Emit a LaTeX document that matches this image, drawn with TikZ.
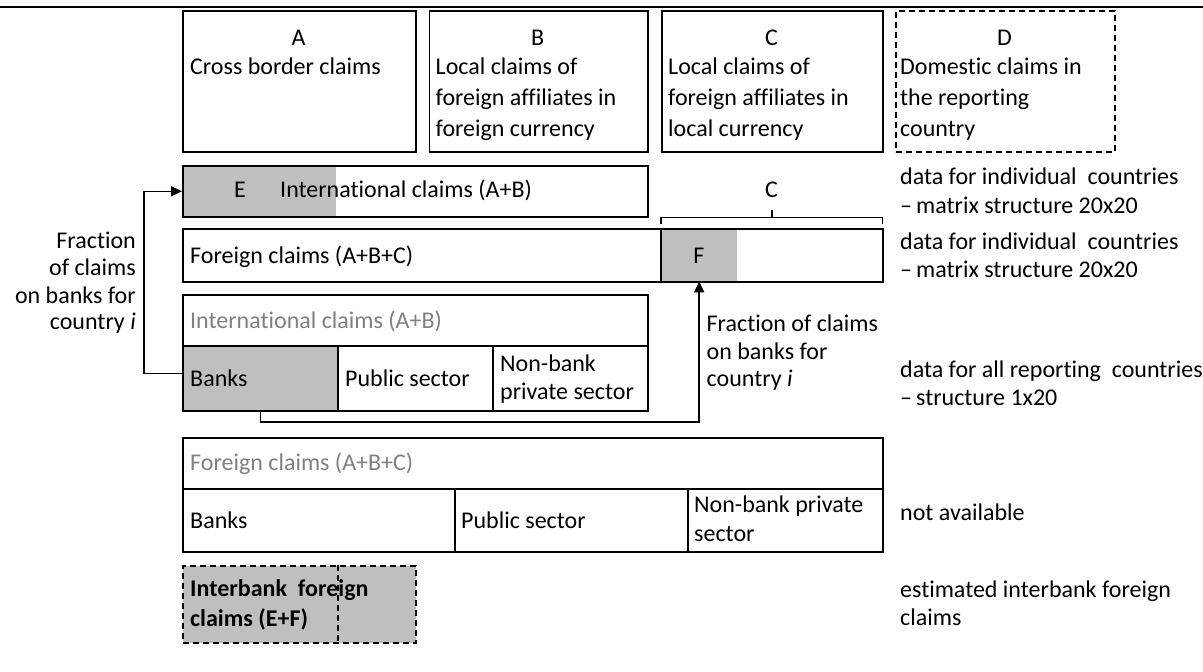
\documentclass[tikz,border=0pt]{standalone}
\usepackage{fontspec}
\setmainfont{Carlito}[Ligatures={NoCommon},Contextuals={NoAlternate},RawFeature={-liga}]
\usetikzlibrary{arrows.meta}
\definecolor{cellgray}{HTML}{BFBFBF}
\definecolor{txtgray}{HTML}{808080}
\newcommand\fs{\fontsize{24}{29}\selectfont}
\begin{document}
\begin{tikzpicture}[x=1pt,y=-1pt,
  box/.style={draw, line width=1.6pt, anchor=north west, inner sep=0pt},
  dbox/.style={box, dash pattern=on 6pt off 4pt},
  shade/.style={fill=cellgray, draw=none, anchor=north west, inner sep=0pt},
  ghost/.style={draw=none, anchor=north west, inner sep=0pt},
  lbl/.style={inner sep=0pt, anchor=base west, font=\fs},
  ctr/.style={inner sep=0pt, anchor=base, font=\fs},
  rgt/.style={inner sep=0pt, anchor=base east, font=\fs},
  conn/.style={line width=1.6pt},
  tip/.style={-{Triangle[length=11pt,width=10pt]}}
]
\useasboundingbox (0,0) rectangle (1203,672);
\coordinate (ruleL) at (0,7);
\coordinate (ruleR) at (1203,7);
\draw[line width=1.6pt] (ruleL) -- (ruleR);

% top boxes
\node[box, minimum width=233pt, minimum height=141pt] (boxA) at (182,10) {};
\node[box, minimum width=218.5pt, minimum height=141pt] (boxB) at (428.5,10) {};
\node[box, minimum width=221pt, minimum height=141pt] (boxC) at (661,10) {};
\node[dbox, minimum width=219pt, minimum height=141pt] (boxD) at (895,10) {};

\node[ctr] (tA) at (298.5,45) {A};
\node[lbl] (tA1) at (190,74) {Cross border claims};
\node[ctr] (tB) at (537.7,45) {B};
\node[lbl] (tB1) at (435.5,74) {Local claims of};
\node[lbl] (tB2) at (435.5,105.5) {foreign affiliates in};
\node[lbl] (tB3) at (435.5,136.5) {foreign currency};
\node[ctr] (tC) at (771.5,45) {C};
\node[lbl] (tC1) at (668,74) {Local claims of};
\node[lbl] (tC2) at (668,105.5) {foreign affiliates in};
\node[lbl] (tC3) at (668,136.5) {local currency};
\node[ctr] (tD) at (1004.5,45) {D};
\node[lbl] (tD1) at (900,74) {Domestic claims in};
\node[lbl] (tD2) at (900,105.5) {the reporting};
\node[lbl] (tD3) at (900,136.5) {country};

% E row
\node[shade, minimum width=154pt, minimum height=51pt] (Eg) at (182,165) {};
\node[box, minimum width=465pt, minimum height=51pt] (rowE) at (182,165) {};
\node[ctr] (tE) at (240,197) {E};
\node[lbl] (tE1) at (280,197) {International claims (A+B)};

% Foreign row
\node[shade, minimum width=76pt, minimum height=53pt] (Fg) at (661,228) {};
\node[box, minimum width=700pt, minimum height=53pt] (rowF) at (182,228) {};
\node[ghost, minimum width=221pt, minimum height=53pt] (Cpart) at (661,228) {};
\draw[conn] (Fg.north west) -- (Fg.south west);
\node[lbl] (tF1) at (190,263) {Foreign claims (A+B+C)};
\node[ctr] (tF) at (699,263) {F};

% brace over C part
\draw[conn] ([yshift=4pt]Cpart.north west) -- ([yshift=10.5pt]Cpart.north west)
  -- ([yshift=10.5pt]Cpart.north east) -- ([yshift=4pt]Cpart.north east);
\draw[conn] ([yshift=10.5pt]Cpart.north) -- ([yshift=18pt]Cpart.north);
\node[ctr] (tCb) at (771.5,197) {C};

% International claims table
\node[box, minimum width=465pt, minimum height=51pt] (intlH) at (182,294) {};
\node[box, fill=cellgray, minimum width=155pt, minimum height=65pt] (banksI) at (182,345) {};
\node[box, minimum width=155pt, minimum height=65pt] (pubI) at (337,345) {};
\node[box, minimum width=155pt, minimum height=65pt] (nbI) at (492,345) {};
\node[lbl, text=txtgray] (tI1) at (190,328) {International claims (A+B)};
\node[lbl] (tI2) at (190,386) {Banks};
\node[lbl] (tI3) at (345,386) {Public sector};
\node[lbl] (tI4) at (500,371) {Non-bank};
\node[lbl] (tI5) at (500,399) {private sector};

% Foreign claims table
\node[box, minimum width=700pt, minimum height=51pt] (forH) at (182,437) {};
\node[box, minimum width=272pt, minimum height=63pt] (banksF) at (182,488) {};
\node[box, minimum width=233pt, minimum height=63pt] (pubF) at (454,488) {};
\node[box, minimum width=195pt, minimum height=63pt] (nbF) at (687,488) {};
\node[lbl, text=txtgray] (tG1) at (190,470) {Foreign claims (A+B+C)};
\node[lbl] (tG2) at (190,528) {Banks};
\node[lbl] (tG3) at (461,528) {Public sector};
\node[lbl] (tG4) at (694,512) {Non-bank private};
\node[lbl] (tG5) at (694,541) {sector};

% Interbank box
\node[dbox, fill=cellgray, minimum width=233pt, minimum height=77pt] (ib) at (182,565) {};
\draw[line width=1.2pt, dash pattern=on 6pt off 4pt] ([xshift=156pt]ib.north west) -- ([xshift=156pt]ib.south west);
\node[lbl, font=\fs\bfseries] (tIB1) at (190,596) {Interbank \ foreign};
\node[lbl, font=\fs\bfseries] (tIB2) at (190,626) {claims (E+F)};

% right-hand notes
\node[lbl] (r1) at (900,184) {data for individual\ \ countries};
\node[lbl] (r2) at (900,213) {–\,matrix structure 20x20};
\node[lbl] (r3) at (900,249) {data for individual\ \ countries};
\node[lbl] (r4) at (900,277) {–\,matrix structure 20x20};
\node[lbl] (r5) at (900,377) {data for all reporting\ \ countries};
\node[lbl] (r6) at (900,405) {–\,structure 1x20};
\node[lbl] (r7) at (900,520) {not available};
\node[lbl] (r8) at (900,597) {estimated interbank foreign};
\node[lbl] (r9) at (900,625) {claims};

% fraction labels
\node[rgt] (fl1) at (136,248) {Fraction};
\node[rgt] (fl2) at (136,275) {of claims};
\node[rgt] (fl3) at (136,303) {on banks for};
\node[rgt] (fl4) at (136,329) {country \textit{i}};
\node[lbl] (fr1) at (706.5,331) {Fraction of claims};
\node[lbl] (fr2) at (706.5,359) {on banks for};
\node[lbl] (fr3) at (706.5,386) {country \textit{i}};

% connectors
\coordinate (lcol) at (144,0);
\coordinate (lowrow) at (0,422);
\draw[conn,tip] ([yshift=5pt]banksI.west) -| (lcol |- rowE.west) -- (rowE.west);
\draw[conn,tip] (banksI.south) -- (banksI.south |- lowrow) -| (Fg.south);
\end{tikzpicture}
\end{document}
